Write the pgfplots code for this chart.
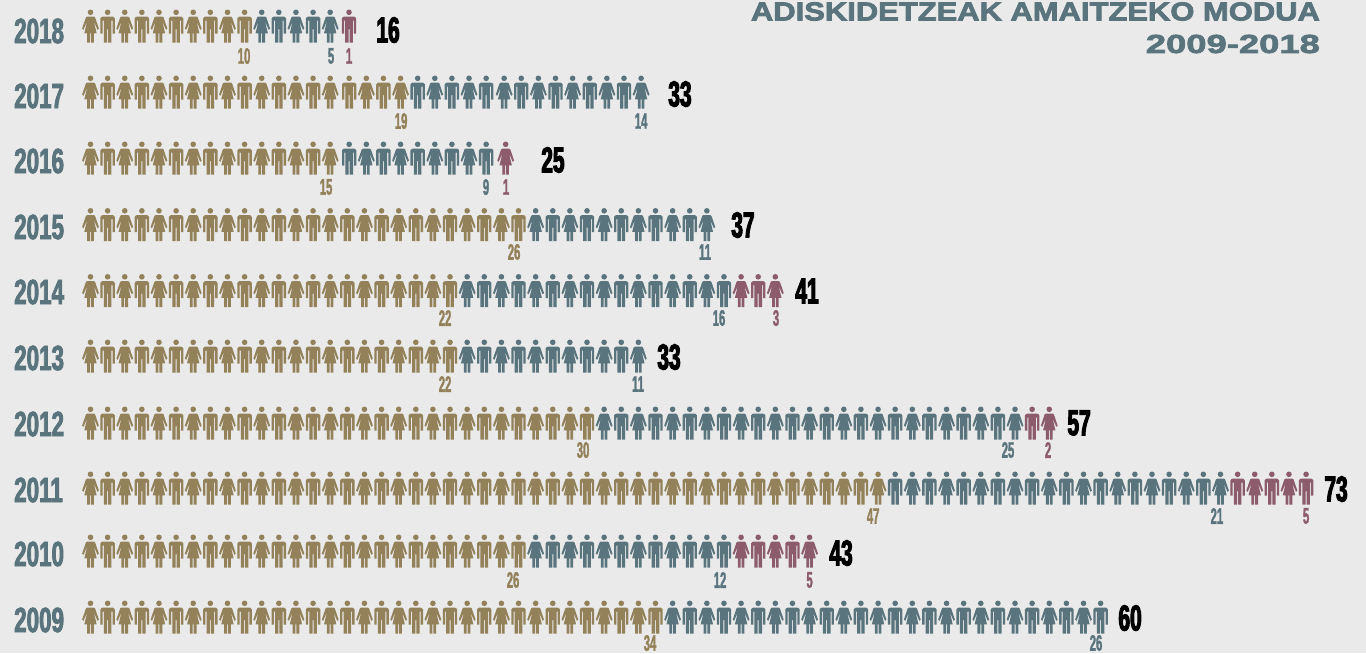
\documentclass[border=0pt]{standalone}
\usepackage{fontspec}
\usepackage{pgfplots}
\pgfplotsset{compat=1.18}
\setmainfont{Liberation Sans}
\newfontfamily\totalfont[FakeStretch=0.58,FakeBold=3]{Liberation Sans Bold}
\newfontfamily\yearfont[FakeStretch=0.64,FakeBold=2.2]{Liberation Sans Bold}
\newfontfamily\smallfont[FakeStretch=0.5,FakeBold=1.5]{Liberation Sans Bold}
\newfontfamily\widefont[FakeStretch=1.19,FakeBold=3]{Liberation Sans Bold}
\newfontfamily\widerfont[FakeStretch=1.4,FakeBold=3]{Liberation Sans Bold}
\definecolor{bgc}{HTML}{EAEAEA}
\definecolor{gold}{HTML}{93815A}
\definecolor{teal2}{HTML}{5A747E}
\definecolor{pink2}{HTML}{8C5B6C}

\newcommand{\pp}[2]{\pgfqpoint{#1pt}{#2pt}}
\newcommand{\mt}[2]{\pgfpathmoveto{\pp{#1}{#2}}}
\newcommand{\lt}[2]{\pgfpathlineto{\pp{#1}{#2}}}
% gizonak
\pgfdeclareplotmark{man}{%
  \pgfpathcircle{\pp{0}{13.7}}{2.8pt}%
  \mt{-7.2}{7.6}\lt{-6}{9}\lt{-4.8}{9.4}\lt{4.8}{9.4}\lt{6}{9}\lt{7.2}{7.6}%
  \lt{7.2}{-7.5}\lt{4.9}{-7.5}\lt{4.9}{5.5}\lt{3.8}{5.5}%
  \lt{3.8}{-16.5}\lt{0.5}{-16.5}\lt{0.5}{-3}\lt{-0.5}{-3}\lt{-0.5}{-16.5}\lt{-3.8}{-16.5}%
  \lt{-3.8}{5.5}\lt{-4.9}{5.5}\lt{-4.9}{-7.5}\lt{-7.2}{-7.5}\pgfpathclose
  \pgfusepathqfill}
% emakumeak
\pgfdeclareplotmark{woman}{%
  \pgfpathcircle{\pp{0}{13.7}}{2.8pt}%
  \mt{-3.4}{9.4}\lt{3.4}{9.4}\lt{4.6}{8.6}\lt{8.4}{-2.6}\lt{7}{-3.8}\lt{3.2}{5}%
  \lt{6.2}{-7.4}\lt{3.3}{-7.4}\lt{3.3}{-16.5}\lt{0.5}{-16.5}\lt{0.5}{-7.4}\lt{-0.5}{-7.4}%
  \lt{-0.5}{-16.5}\lt{-3.3}{-16.5}\lt{-3.3}{-7.4}\lt{-6.2}{-7.4}\lt{-3.2}{5}%
  \lt{-7}{-3.8}\lt{-8.4}{-2.6}\lt{-4.6}{8.6}\pgfpathclose
  \pgfusepathqfill}

\pgfplotsset{
  person/.style={only marks, mark=#1, draw=none},
  labels/.style={only marks, mark=none, point meta=explicit symbolic,
    nodes near coords, nodes near coords style={anchor=center, inner sep=0pt, text=#1,
      font=\smallfont\fontsize{22.5}{22.5}\selectfont}},
}

\begin{document}
\begin{tikzpicture}
\begin{axis}[
  scale only axis, width=1366pt, height=653pt,
  xmin=-4.286, xmax=75.5, ymin=0, ymax=653, y dir=reverse,
  axis background/.style={fill=bgc},
  axis line style={draw=none}, tick style={draw=none},
  xtick=\empty, ytick pos=left, major tick length=0pt,
  ytick={31,96,161,227,292,358,424,490,554,620},
  yticklabels={2018,2017,2016,2015,2014,2013,2012,2011,2010,2009},
  yticklabel style={anchor=west, xshift=14pt, inner sep=0pt, text=teal2,
    font=\yearfont\fontsize{35}{35}\selectfont},
  clip=false,
]
% urrezkoak, emakumeak
\addplot[person=woman, mark options={fill=gold, draw=none}] coordinates {
 (1,26)(3,26)(5,26)(7,26)(9,26)
 (1,92)(3,92)(5,92)(7,92)(9,92)(11,92)(13,92)(15,92)(17.11,92)(19.11,92)
 (1,158)(3,158)(5,158)(7,158)(9,158)(11,158)(13,158)(15,158)
 (1,224.5)(3,224.5)(5,224.5)(7,224.5)(9,224.5)(11,224.5)(13,224.5)(15,224.5)(17,224.5)(19,224.5)(21,224.5)(23,224.5)(25,224.5)
 (1,290.5)(3,290.5)(5,290.5)(7,290.5)(9,290.5)(11,290.5)(13,290.5)(15,290.5)(17,290.5)(19,290.5)(21,290.5)
 (1,356)(3,356)(5,356)(7,356)(9,356)(11,356)(13,356)(15,356)(17,356)(19,356)(21,356)
 (1,423)(3,423)(5,423)(7,423)(9,423)(11,423)(13,423)(15,423)(17,423)(19,423)(21,423)(23,423)(25,423)(27,423)(29,423)
 (1,488)(3,488)(5,488)(7,488)(9,488)(11,488)(13,488)(15,488)(17,488)(19,488)(21,488)(23,488)(25,488)(27,488)(29,488)(31,488)(33,488)(35,488)(37,488)(39,488)(41,488)(43,488)(45,488)(47,488)
 (1,551)(3,551)(5,551)(7,551)(9,551)(11,551)(13,551)(15,551)(17,551)(19,551)(21,551)(23,551)(25,551)
 (1,617)(3,617)(5,617)(7,617)(9,617)(11,617)(13,617)(15,617)(17,617)(19,617)(21,617)(23,617)(25,617)(27,617)(29,617)(31,617)(33,617)
};
% urrezkoak, gizonak
\addplot[person=man, mark options={fill=gold, draw=none}] coordinates {
 (2,26)(4,26)(6,26)(8,26)(10,26)
 (2,92)(4,92)(6,92)(8,92)(10,92)(12,92)(14,92)(16.11,92)(18.11,92)
 (2,158)(4,158)(6,158)(8,158)(10,158)(12,158)(14,158)
 (2,224.5)(4,224.5)(6,224.5)(8,224.5)(10,224.5)(12,224.5)(14,224.5)(16,224.5)(18,224.5)(20,224.5)(22,224.5)(24,224.5)(26,224.5)
 (2,290.5)(4,290.5)(6,290.5)(8,290.5)(10,290.5)(12,290.5)(14,290.5)(16,290.5)(18,290.5)(20,290.5)(22,290.5)
 (2,356)(4,356)(6,356)(8,356)(10,356)(12,356)(14,356)(16,356)(18,356)(20,356)(22,356)
 (2,423)(4,423)(6,423)(8,423)(10,423)(12,423)(14,423)(16,423)(18,423)(20,423)(22,423)(24,423)(26,423)(28,423)(30,423)
 (2,488)(4,488)(6,488)(8,488)(10,488)(12,488)(14,488)(16,488)(18,488)(20,488)(22,488)(24,488)(26,488)(28,488)(30,488)(32,488)(34,488)(36,488)(38,488)(40,488)(42,488)(44,488)(46,488)
 (2,551)(4,551)(6,551)(8,551)(10,551)(12,551)(14,551)(16,551)(18,551)(20,551)(22,551)(24,551)(26,551)
 (2,617)(4,617)(6,617)(8,617)(10,617)(12,617)(14,617)(16,617)(18,617)(20,617)(22,617)(24,617)(26,617)(28,617)(30,617)(32,617)(34,617)
};
% urdinak, emakumeak
\addplot[person=woman, mark options={fill=teal2, draw=none}] coordinates {
 (11,26)(13,26)(15,26)
 (21.11,92)(23.11,92)(25.16,92)(27.16,92)(29.16,92)(31.16,92)(33.16,92)
 (17.11,158)(19.11,158)(21.11,158)(23.11,158)
 (27,224.5)(29,224.5)(31,224.5)(33,224.5)(35,224.5)(37,224.5)
 (23,290.5)(25,290.5)(27,290.5)(29,290.5)(31,290.5)(33,290.5)(35,290.5)(37,290.5)
 (23,356)(25,356)(27,356)(29,356)(31,356)(33,356)
 (31,423)(33,423)(35,423)(37,423)(39,423)(41,423)(43,423)(45,423)(47,423)(49,423)(51,423)(53,423)(55,423)
 (49,488)(51,488)(53,488)(55,488)(57,488)(59,488)(61,488)(63,488)(65,488)(67,488)
 (27,551)(29,551)(31,551)(33,551)(35,551)(37,551)
 (35,617)(37,617)(39,617)(41,617)(43,617)(45,617)(47,617)(49,617)(51,617)(53,617)(55,617)(57,617)(59,617)
};
% urdinak, gizonak
\addplot[person=man, mark options={fill=teal2, draw=none}] coordinates {
 (12,26)(14,26)
 (20.11,92)(22.11,92)(24.11,92)(26.16,92)(28.16,92)(30.16,92)(32.16,92)
 (16.11,158)(18.11,158)(20.11,158)(22.11,158)(24.11,158)
 (28,224.5)(30,224.5)(32,224.5)(34,224.5)(36,224.5)
 (24,290.5)(26,290.5)(28,290.5)(30,290.5)(32,290.5)(34,290.5)(36,290.5)(38,290.5)
 (24,356)(26,356)(28,356)(30,356)(32,356)
 (32,423)(34,423)(36,423)(38,423)(40,423)(42,423)(44,423)(46,423)(48,423)(50,423)(52,423)(54,423)
 (48,488)(50,488)(52,488)(54,488)(56,488)(58,488)(60,488)(62,488)(64,488)(66,488)
 (28,551)(30,551)(32,551)(34,551)(36,551)(38,551)
 (36,617)(38,617)(40,617)(42,617)(44,617)(46,617)(48,617)(50,617)(52,617)(54,617)(56,617)(58,617)(60,617)
};
% gorriak
\addplot[person=woman, mark options={fill=pink2, draw=none}] coordinates {
 (25.25,158) (39,290.5)(41,290.5) (57,423) (69,488)(71,488) (39,551)(41,551)(43,551)
};
\addplot[person=man, mark options={fill=pink2, draw=none}] coordinates {
 (16.1,26) (40,290.5) (56,423) (68,488)(70,488)(72,488) (40,551)(42,551)
};
% etiketak
\addplot[labels=gold] coordinates {
 (9.97,56)[10] (19.14,121)[19] (14.76,187)[15] (25.74,252)[26] (21.71,318)[22]
 (21.71,384)[22] (29.77,450)[30] (46.71,516)[47] (25.68,580)[26] (33.68,643)[34]
};
\addplot[labels=teal2] coordinates {
 (15.05,56)[5] (33.16,121)[14] (24.10,187)[9] (36.89,252)[11] (37.71,318)[16]
 (32.98,384)[11] (54.59,450)[25] (66.79,516)[21] (37.77,580)[12] (59.73,643)[26]
};
\addplot[labels=pink2] coordinates {
 (16.10,56)[1] (25.27,187)[1] (41.04,318)[3] (56.93,450)[2] (72.0,516)[5] (43.0,580)[5]
};
% guztira
\addplot[only marks, mark=none, point meta=explicit symbolic, nodes near coords,
  nodes near coords style={anchor=center, inner sep=0pt, text=black,
    font=\totalfont\fontsize{36}{36}\selectfont}] coordinates {
 (18.38,30)[16] (35.43,94)[33] (28.01,160)[25] (39.11,225)[37] (42.85,291)[41]
 (34.79,357)[33] (58.74,423)[57] (73.75,489)[73] (44.84,553)[43] (61.72,618)[60]
};
\node[anchor=east, inner sep=0pt, text=teal2, font=\widefont\fontsize{26}{26}\selectfont]
  at (axis cs:72.82,11.5) {ADISKIDETZEAK AMAITZEKO MODUA};
\node[anchor=east, inner sep=0pt, text=teal2, font=\widerfont\fontsize{26}{26}\selectfont]
  at (axis cs:72.82,44) {2009-2018};
\end{axis}
\end{tikzpicture}
\end{document}
